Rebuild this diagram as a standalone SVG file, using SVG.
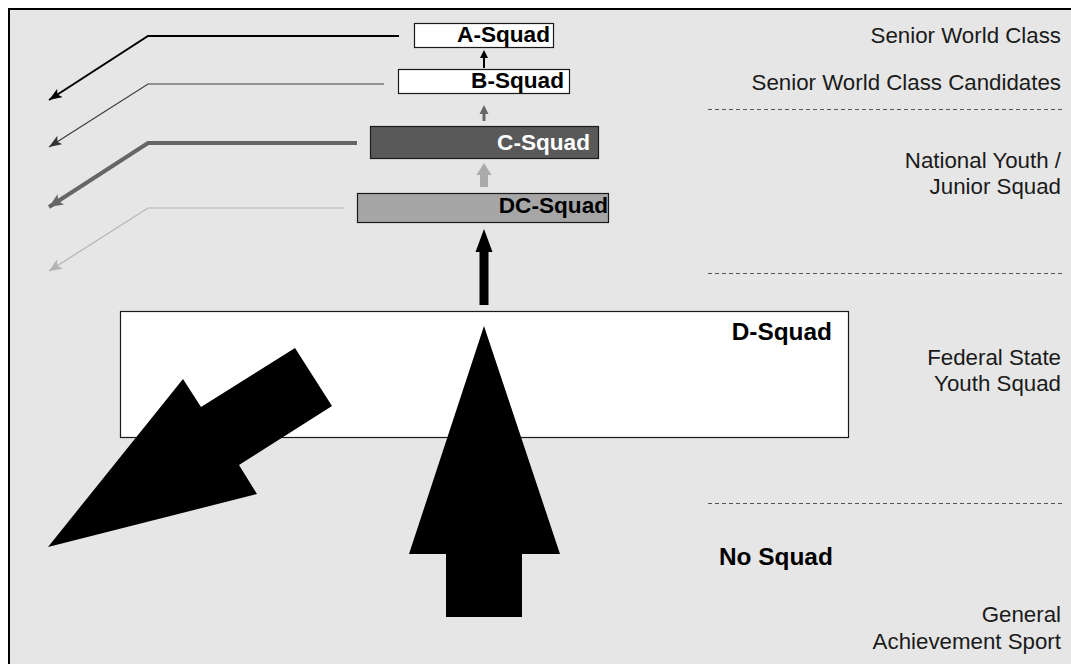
<svg xmlns="http://www.w3.org/2000/svg" width="1071" height="664" viewBox="0 0 1071 664">
<style>
text{font-family:"Liberation Sans",Arial,sans-serif;}
.lvl{font-size:22.3px;fill:#1a1a1a;text-anchor:end;}
.sq{font-size:22.6px;font-weight:bold;text-anchor:end;}
.box{stroke:#1a1a1a;stroke-width:1.2;}
.dash{stroke:#555;stroke-width:1;stroke-dasharray:4 3;fill:none;}
</style>
<defs>
<marker id="mBlack" markerUnits="userSpaceOnUse" markerWidth="14" markerHeight="10" refX="13" refY="5" orient="auto"><path d="M0,0 L13,5 L0,10 L3,5 z" fill="#000"/></marker>
<marker id="mDark" markerUnits="userSpaceOnUse" markerWidth="14" markerHeight="10" refX="13" refY="5" orient="auto"><path d="M0,0 L13,5 L0,10 L3,5 z" fill="#333"/></marker>
<marker id="mMid" markerUnits="userSpaceOnUse" markerWidth="15" markerHeight="12" refX="14" refY="6" orient="auto"><path d="M0,0 L14,6 L0,12 L3,6 z" fill="#666"/></marker>
<marker id="mLight" markerUnits="userSpaceOnUse" markerWidth="14" markerHeight="11" refX="13" refY="5.5" orient="auto"><path d="M0,0 L13,5.5 L0,11 L3,5.5 z" fill="#b3b3b3"/></marker>
</defs>
<rect x="0" y="0" width="1071" height="664" fill="#fff"/>
<rect x="9" y="9" width="1080" height="680" fill="#e6e6e6" stroke="#000" stroke-width="2"/>

<g id="levels">
<text class="lvl" x="1061" y="43">Senior World Class</text>
<text class="lvl" x="1061" y="90">Senior World Class Candidates</text>
<text class="lvl" x="1061" y="168">National Youth /</text>
<text class="lvl" x="1061" y="194">Junior Squad</text>
<text class="lvl" x="1061" y="365">Federal State</text>
<text class="lvl" x="1061" y="391">Youth Squad</text>
<text class="lvl" x="1061" y="622">General</text>
<text class="lvl" x="1061" y="649">Achievement Sport</text>
<line class="dash" x1="708" y1="109.5" x2="1062" y2="109.5"/>
<line class="dash" x1="708" y1="273.5" x2="1062" y2="273.5"/>
<line class="dash" x1="708" y1="503.5" x2="1062" y2="503.5"/>
</g>

<g id="d-squad">
<rect class="box" x="120.5" y="311.5" width="728" height="126" fill="#fff"/>
<text class="sq" x="832" y="340" style="font-size:24.4px">D-Squad</text>
</g>

<g id="no-squad">
<text x="719" y="565" style="font-size:24.4px;font-weight:bold">No Squad</text>
</g>

<g id="a-squad">
<rect class="box" x="414.5" y="23.5" width="139" height="24" fill="#fff"/>
<text class="sq" x="550" y="42">A-Squad</text>
</g>
<g id="b-squad">
<rect class="box" x="398.5" y="69.5" width="171" height="24" fill="#fff"/>
<text class="sq" x="564" y="88">B-Squad</text>
</g>
<g id="c-squad">
<rect class="box" x="370.5" y="126.5" width="228" height="32" fill="#595959"/>
<text class="sq" x="590" y="150" fill="#fff">C-Squad</text>
</g>
<g id="dc-squad">
<rect class="box" x="357.5" y="193.5" width="251" height="29" fill="#a6a6a6"/>
<text class="sq" x="608" y="213">DC-Squad</text>
</g>

<g id="connectors">
<polyline points="399,36 148,36 49,100" fill="none" stroke="#000" stroke-width="2" marker-end="url(#mBlack)"/>
<polyline points="384,84 148,84 49,147" fill="none" stroke="#3a3a3a" stroke-width="1.2" marker-end="url(#mDark)"/>
<polyline points="357,143 148,143 49,207" fill="none" stroke="#666" stroke-width="4" marker-end="url(#mMid)"/>
<polyline points="344,208 148,208 49,271" fill="none" stroke="#b3b3b3" stroke-width="1.2" marker-end="url(#mLight)"/>

<path d="M484,50 L488,58 L485,58 L485,68 L483,68 L483,58 L480,58 z" fill="#000"/>
<path d="M484,105 L488.5,114 L485.5,114 L485.5,121 L482.5,121 L482.5,114 L479.5,114 z" fill="#666"/>
<path d="M484,163 L491.5,175 L488,175 L488,187 L480,187 L480,175 L476.5,175 z" fill="#aaa"/>
<path d="M484,229 L492.5,252 L488.5,252 L488.5,305 L479.5,305 L479.5,252 L475.5,252 z" fill="#000"/>

<path d="M484,326 L560,554 L522,554 L522,617 L446,617 L446,554 L409,554 z" fill="#000"/>
<path d="M48,547 L183,379 L201,407 L295,348 L332,406 L239,465 L257,494 z" fill="#000"/>
</g>
</svg>
